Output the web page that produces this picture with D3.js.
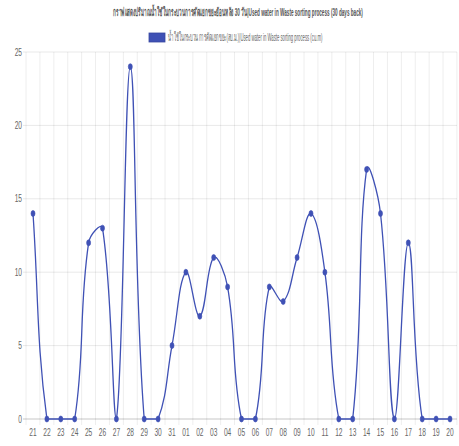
<!DOCTYPE html>
<html><head><meta charset="utf-8">
<script src="https://cdn.jsdelivr.net/npm/d3@7"></script>
<style>html,body{margin:0;padding:0;background:#fff;}svg{display:block;}</style>
</head><body>
<svg id="c" width="459" height="446"></svg>
<script>
const categories = ["21","22","23","24","25","26","27","28","29","30","31","01","02","03","04","05","06","07","08","09","10","11","12","13","14","15","16","17","18","19","20"];
const values = [14,0,0,0,12,13,0,24,0,0,5,10,7,11,9,0,0,9,8,11,14,10,0,0,17,14,0,12,0,0,0];
const yTicks = [0,5,10,15,20,25];
const titleText = "กราฟแสดงปริมาณน้ำใช้ในกระบวนการคัดแยกขยะย้อนหลัง 30 วัน|Used water in Waste sorting process (30 days back)";
const legendText = "น้ำใช้ในกระบวนการคัดแยกขยะ(ลบ.ม.)|Used water in Waste sorting process (cu.m)";

const color = "#3f51b5";
const sx = 0.6;
const font = "Arial, 'Liberation Sans', 'Noto Sans', sans-serif";
const svg = d3.select("#c");
const area = {left: 27, right: 457, top: 52, bottom: 419};

const x = d3.scalePoint().domain(categories).range([33, 450]);
const y = d3.scaleLinear().domain([0, 25]).range([area.bottom, area.top]);
const step = x.step();

// grid
const g = svg.append("g");
categories.forEach(c => {
  g.append("line").attr("x1", x(c) - step/2).attr("x2", x(c) - step/2)
   .attr("y1", area.top).attr("y2", area.bottom + 6)
   .attr("stroke", "rgba(0,0,0,0.07)").attr("stroke-width", 1);
});
g.append("line").attr("x1", x(categories[categories.length-1]) + step/2).attr("x2", x(categories[categories.length-1]) + step/2)
 .attr("y1", area.top).attr("y2", area.bottom + 6).attr("stroke", "rgba(0,0,0,0.07)");
yTicks.forEach(t => {
  g.append("line").attr("x1", area.left - 4).attr("x2", area.right)
   .attr("y1", y(t)).attr("y2", y(t))
   .attr("stroke", t === 0 ? "rgba(0,0,0,0.22)" : "rgba(0,0,0,0.09)").attr("stroke-width", 1);
  g.append("text").attr("transform", `translate(${area.left - 5},${y(t) + 3.5}) scale(${sx},1)`)
   .attr("text-anchor", "end").attr("font-family", font).attr("font-size", 11).attr("fill", "#666").text(t);
});
categories.forEach(c => {
  g.append("text").attr("transform", `translate(${x(c)},${area.bottom + 17}) scale(${sx},1)`)
   .attr("text-anchor", "middle").attr("font-family", font).attr("font-size", 11).attr("fill", "#666").text(c);
});

// Chart.js-like spline curve (tension 0.4, control points capped to chart area)
function chartjsCurve(context) {
  let pts = [];
  return {
    areaStart(){}, areaEnd(){},
    lineStart(){ pts = []; },
    point(px, py){ pts.push([+px, +py]); },
    lineEnd(){
      const t = 0.4, n = pts.length;
      const cp = pts.map((p, i) => {
        const prev = pts[Math.max(0, i-1)], next = pts[Math.min(n-1, i+1)];
        const d01 = Math.hypot(p[0]-prev[0], p[1]-prev[1]);
        const d12 = Math.hypot(next[0]-p[0], next[1]-p[1]);
        let s01 = d01/(d01+d12), s12 = d12/(d01+d12);
        if (isNaN(s01)) s01 = 0; if (isNaN(s12)) s12 = 0;
        const fa = t*s01, fb = t*s12;
        const cap = (v, lo, hi) => Math.max(lo, Math.min(hi, v));
        return {
          px: cap(p[0] - fa*(next[0]-prev[0]), area.left, area.right),
          py: cap(p[1] - fa*(next[1]-prev[1]), area.top, area.bottom),
          nx: cap(p[0] + fb*(next[0]-prev[0]), area.left, area.right),
          ny: cap(p[1] + fb*(next[1]-prev[1]), area.top, area.bottom)
        };
      });
      context.moveTo(pts[0][0], pts[0][1]);
      for (let i = 1; i < n; i++) {
        context.bezierCurveTo(cp[i-1].nx, cp[i-1].ny, cp[i].px, cp[i].py, pts[i][0], pts[i][1]);
      }
    }
  };
}

const data = categories.map((c, i) => ({c, v: values[i]}));
const line = d3.line().x(d => x(d.c)).y(d => y(d.v)).curve(chartjsCurve);
svg.append("path").datum(data).attr("d", line)
  .attr("fill", "none").attr("stroke", color).attr("stroke-width", 1.3);

svg.append("g").selectAll("ellipse").data(data).join("ellipse")
  .attr("cx", d => x(d.c)).attr("cy", d => y(d.v))
  .attr("rx", 2).attr("ry", 3).attr("fill", color).attr("stroke", color).attr("stroke-width", 0.6);

// text fitted to a width by horizontal scaling
function fitText(txt, x0, y0, width, size, fill, weight) {
  const el = svg.append("text").attr("font-family", font).attr("font-size", size)
    .attr("font-weight", weight || "normal").attr("fill", fill).text(txt);
  const w = el.node().getComputedTextLength();
  el.attr("transform", `translate(${x0},${y0}) scale(${width / w},1)`);
  return el;
}

// title
fitText(titleText, 113, 16, 248, 11, "#555", "bold");

// legend
svg.append("rect").attr("x", 149).attr("y", 33).attr("width", 16).attr("height", 9)
  .attr("fill", color).attr("stroke", "#3848a0").attr("stroke-width", 0.8);
fitText(legendText, 168, 41, 155, 11, "#666");
</script>
</body></html>
